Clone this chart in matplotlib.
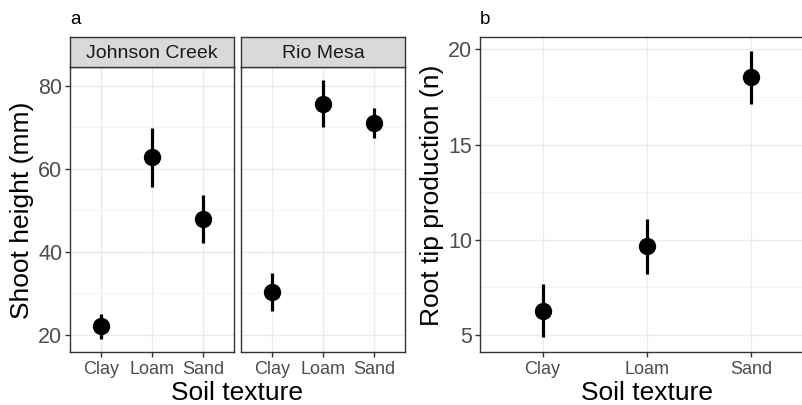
import numpy as np
import matplotlib
matplotlib.use('Agg')
import matplotlib.pyplot as plt

plt.rcParams['font.family'] = ['Liberation Sans', 'DejaVu Sans']

# ============ data ============
soil = ['Clay', 'Loam', 'Sand']
sites = ['Johnson Creek', 'Rio Mesa']

shoot_mean = [[22.0, 62.8, 47.8], [30.4, 75.7, 71.0]]
shoot_lo = [[19.0, 55.7, 42.0], [25.8, 70.1, 67.5]]
shoot_hi = [[25.0, 69.8, 53.6], [34.8, 81.5, 74.6]]

root_mean = [6.26, 9.66, 18.55]
root_lo = [4.90, 8.22, 17.12]
root_hi = [7.66, 11.11, 19.92]

W, H = 803, 405
fig = plt.figure(figsize=(W / 100, H / 100), dpi=100)


def px_axes(x0, y0, x1, y1):
    """axes from pixel box (top-left origin)"""
    return fig.add_axes([x0 / W, (H - y1) / H, (x1 - x0) / W, (y1 - y0) / H])


def style(ax, ylim, majors, minors, show_y=True):
    ax.set_xlim(-0.6, 2.6)
    ax.set_ylim(*ylim)
    ax.set_xticks(range(len(soil)))
    ax.set_xticklabels(soil)
    ax.set_yticks(majors)
    ax.set_yticks(minors, minor=True)
    ax.grid(True, which='major', color='#EBEBEB', lw=1.0, zorder=0)
    ax.grid(True, which='minor', axis='y', color='#F2F2F2', lw=0.6, zorder=0)
    ax.set_axisbelow(True)
    for s in ax.spines.values():
        s.set_color('#333333')
        s.set_linewidth(1.0)
    ax.tick_params(axis='x', labelsize=13, colors='#333333', labelcolor='#4D4D4D',
                   length=3.5, width=1, pad=3)
    ax.tick_params(axis='y', labelsize=15.5, colors='#333333', labelcolor='#4D4D4D',
                   length=3.5, width=1, pad=2, left=show_y, labelleft=show_y)
    ax.tick_params(axis='y', which='minor', length=0)


def draw(ax, mean, lo, hi):
    x = np.arange(len(soil))
    ax.vlines(x, lo, hi, color='black', lw=2.3, zorder=3)
    ax.plot(x, mean, 'o', color='black', ms=11.5, zorder=4)


# panel a: facets
boxes = [(70, 234), (241, 405)]
for i, site in enumerate(sites):
    x0, x1 = boxes[i]
    ax = px_axes(x0, 67, x1, 352)
    draw(ax, shoot_mean[i], shoot_lo[i], shoot_hi[i])
    style(ax, (15.8, 84.6), [20, 40, 60, 80], [30, 50, 70], show_y=(i == 0))
    sx = px_axes(x0, 37, x1, 67)
    sx.set_xticks([])
    sx.set_yticks([])
    sx.set_facecolor('#D9D9D9')
    for s in sx.spines.values():
        s.set_color('#333333')
        s.set_linewidth(1.0)
    sx.text(0.5, 0.45, site, ha='center', va='center', fontsize=14,
            color='#1A1A1A', transform=sx.transAxes)

# panel b (right border falls outside the figure, as in the original)
axb = px_axes(480, 37, 814, 352)
draw(axb, root_mean, root_lo, root_hi)
style(axb, (4.11, 20.65), [5, 10, 15, 20], [7.5, 12.5, 17.5])

# titles and panel letters
fig.text(237 / W, 1 - 393 / H, 'Soil texture', ha='center', va='center', fontsize=19)
fig.text(647 / W, 1 - 393 / H, 'Soil texture', ha='center', va='center', fontsize=19)
fig.text(22 / W, 1 - 210 / H, 'Shoot height (mm)', ha='center', va='center',
         rotation=90, fontsize=19)
fig.text(432 / W, 1 - 195 / H, 'Root tip production (n)', ha='center', va='center',
         rotation=90, fontsize=19)
fig.text(70 / W, 1 - 20 / H, 'a', ha='left', va='center', fontsize=13.5)
fig.text(480 / W, 1 - 20 / H, 'b', ha='left', va='center', fontsize=13.5)

fig.savefig('out.png', dpi=100)
